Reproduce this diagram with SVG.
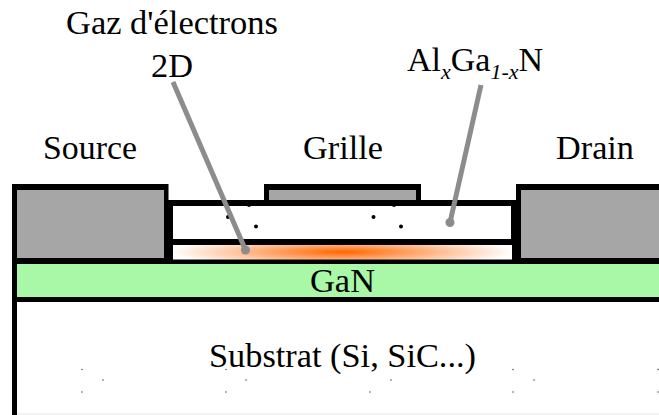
<svg xmlns="http://www.w3.org/2000/svg" width="659" height="415" viewBox="0 0 659 415">
<defs>
<radialGradient id="g" gradientUnits="userSpaceOnUse" cx="0" cy="0" r="1" gradientTransform="translate(342 252) scale(172 15)">
<stop offset="0" stop-color="#ff6600"/><stop offset="1" stop-color="#fff"/>
</radialGradient>
</defs>
<style>
text{font-family:"Liberation Serif","Times New Roman",serif;fill:#000;font-size:34px}
.k{fill:#000}.m{fill:#a6a6a6}.p{fill:#8c8c8c}.d{fill:#000}.s{fill:#555}
.l{stroke:#8c8c8c;stroke-width:5;fill:none}
.sub{font-size:22px;font-style:italic}
</style>
<rect width="659" height="415" fill="#fff"/>
<g id="substrat">
<rect class="k" x="12" y="297" width="647" height="118"/>
<rect x="17" y="302" width="642" height="111" fill="#fff"/>
<rect x="17" y="413" width="642" height="2" fill="#f2f2f2"/>
<g class="s">
<circle cx="82" cy="369.500" r="0.800"/><circle cx="226" cy="369.500" r="0.800"/><circle cx="513" cy="369.500" r="0.800"/><circle cx="658" cy="369.500" r="0.800"/>
<circle cx="103" cy="380" r="0.800"/><circle cx="246" cy="380" r="0.800"/><circle cx="391" cy="380" r="0.800"/><circle cx="534" cy="380" r="0.800"/>
<circle cx="82" cy="392" r="0.800"/><circle cx="226" cy="392" r="0.800"/><circle cx="370" cy="392" r="0.800"/><circle cx="513" cy="392" r="0.800"/><circle cx="658" cy="392" r="0.800"/>
</g>
<text x="209" y="367" textLength="267" lengthAdjust="spacingAndGlyphs">Substrat (Si, SiC...)</text>
</g>
<g id="gan">
<rect class="k" x="12" y="259" width="647" height="43"/>
<rect x="17" y="264" width="642" height="33" fill="#a8f8a8"/>
<text x="310" y="292" textLength="65" lengthAdjust="spacingAndGlyphs">GaN</text>
</g>
<g id="source">
<rect class="k" x="12" y="184" width="156.500" height="80"/>
<rect class="m" x="17" y="190" width="147" height="68"/>
<text x="43" y="159" textLength="94" lengthAdjust="spacingAndGlyphs">Source</text>
</g>
<g id="grille">
<rect class="k" x="264" y="184" width="157" height="20"/>
<rect class="m" x="269" y="190" width="147" height="10"/>
<text x="303" y="159" textLength="80" lengthAdjust="spacingAndGlyphs">Grille</text>
</g>
<g id="drain">
<rect class="k" x="516" y="184" width="143" height="80"/>
<rect class="m" x="521" y="190" width="138" height="68"/>
<text x="556" y="159" textLength="78" lengthAdjust="spacingAndGlyphs">Drain</text>
</g>
<g id="algan">
<rect class="k" x="168" y="200" width="348" height="60"/>
<rect x="173" y="206" width="338" height="33" fill="#fff"/>
<rect x="173" y="245" width="339" height="14.500" fill="url(#g)"/>
<g class="d">
<circle cx="228" cy="217" r="2"/><circle cx="256" cy="226.500" r="2"/><circle cx="249" cy="205" r="2"/>
<circle cx="373.500" cy="217" r="2"/><circle cx="401" cy="226.500" r="2"/><circle cx="394" cy="205" r="2"/>
</g>
<text x="407" y="71">Al<tspan class="sub" dy="8">x</tspan><tspan dy="-8">Ga</tspan><tspan class="sub" dy="8">1-x</tspan><tspan dy="-8">N</tspan></text>
</g>
<g id="gaz">
<text x="66" y="34" textLength="212" lengthAdjust="spacingAndGlyphs">Gaz d'électrons</text>
<text x="151" y="77" textLength="42" lengthAdjust="spacingAndGlyphs">2D</text>
</g>
<g id="connectors">
<path class="l" d="M173 82L245.500 250"/><circle class="p" cx="245.500" cy="250" r="4.500"/>
<path class="l" d="M481 85L450 222.500"/><circle class="p" cx="450" cy="222.500" r="4.500"/>
</g>
</svg>
